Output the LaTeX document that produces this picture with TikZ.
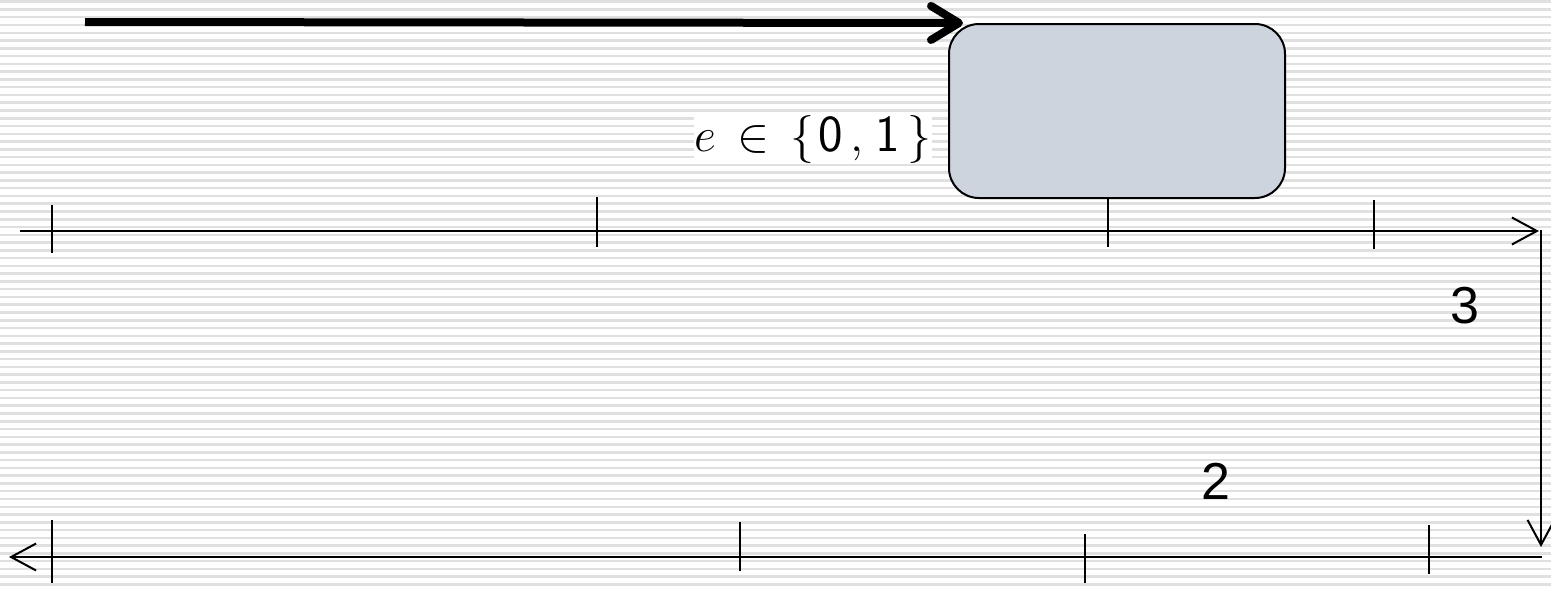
\RequirePackage{fix-cm}
\documentclass[tikz,border=0pt]{standalone}
\usepackage{fontspec}
\newfontfamily\arialfont{Liberation Sans}
\usetikzlibrary{arrows.meta}
\definecolor{stripe}{RGB}{224,224,224}
\definecolor{boxfill}{RGB}{206,212,221}
\newcommand{\sfdig}[1]{\mathord{\hbox{\fontsize{26}{30}\selectfont\sffamily #1}}}
\tikzset{
  thinline/.style={line width=1pt, black},
  axisarrow/.style={thinline, -{Straight Barb[length=12.5pt,width=13.5pt,line width=1pt]}},
  bigarrow/.style={line width=4pt, -{Straight Barb[length=14pt,width=17pt,round]}},
  bluebox/.style={draw, line width=1pt, fill=boxfill, rounded corners=15pt, minimum width=168pt, minimum height=87pt, inner sep=0pt},
  numlabel/.style={font=\arialfont\fontsize{26}{30}\selectfont, inner sep=0pt},
  mathlabel/.style={fill=white, inner xsep=0pt, inner ysep=0pt, font=\fontsize{24}{29}\selectfont},
}
\begin{document}
\begin{tikzpicture}[x=0.5pt,y=-0.5pt]
\useasboundingbox (0,0) rectangle (1551,589);
\fill[white] (0,0) rectangle (1551,589);
% background stripes
\foreach \k in {0,...,75} {
  \draw[stripe, line width=1.25pt] (0,{1.7+7.77*\k}) -- (1551,{1.7+7.77*\k});
}
% box
\node[bluebox] (box) at (1117,111) {};
% label
\node[mathlabel, anchor=base] (lbl) at (813,151) {$e\mkern3mu\in\mkern3mu\bigl\{\mkern1.5mu\sfdig{0}\mkern2.5mu,\mkern1.5mu\sfdig{1}\mkern3mu\bigr\}$};
% thick arrow
\coordinate (arrs) at (85,22);
\draw[bigarrow] (arrs) -- ([xshift=7.5pt]box.north west);
% top axis
\coordinate (ta0) at (20,231);
\coordinate (ta1) at (1539,231);
\draw[axisarrow] (ta0) -- (ta1);
\coordinate (t1a) at (52,205); \coordinate (t1b) at (52,253);
\coordinate (t2a) at (597,197); \coordinate (t2b) at (597,247);
\coordinate (t3b) at (1108,247);
\coordinate (t4a) at (1374,200); \coordinate (t4b) at (1374,249);
\draw[thinline] (t1a) -- (t1b);
\draw[thinline] (t2a) -- (t2b);
\draw[thinline] (box.south -| t3b) -- (t3b);
\draw[thinline] (t4a) -- (t4b);
% vertical arrow
\coordinate (v0) at (1541,230);
\coordinate (v1) at (1541,547);
\draw[axisarrow] (v0) -- (v1);
% bottom axis
\coordinate (ba0) at (1542,557);
\coordinate (ba1) at (9,557);
\draw[axisarrow] (ba0) -- (ba1);
\coordinate (b1a) at (52,520); \coordinate (b1b) at (52,583);
\coordinate (b2a) at (740,522); \coordinate (b2b) at (740,571);
\coordinate (b3a) at (1085,534); \coordinate (b3b) at (1085,583);
\coordinate (b4a) at (1429,525); \coordinate (b4b) at (1429,574);
\draw[thinline] (b1a) -- (b1b);
\draw[thinline] (b2a) -- (b2b);
\draw[thinline] (b3a) -- (b3b);
\draw[thinline] (b4a) -- (b4b);
% numbers
\node[numlabel] (n3) at (1465,306) {3};
\node[numlabel] (n2) at (1216,481) {2};
\end{tikzpicture}
\end{document}
